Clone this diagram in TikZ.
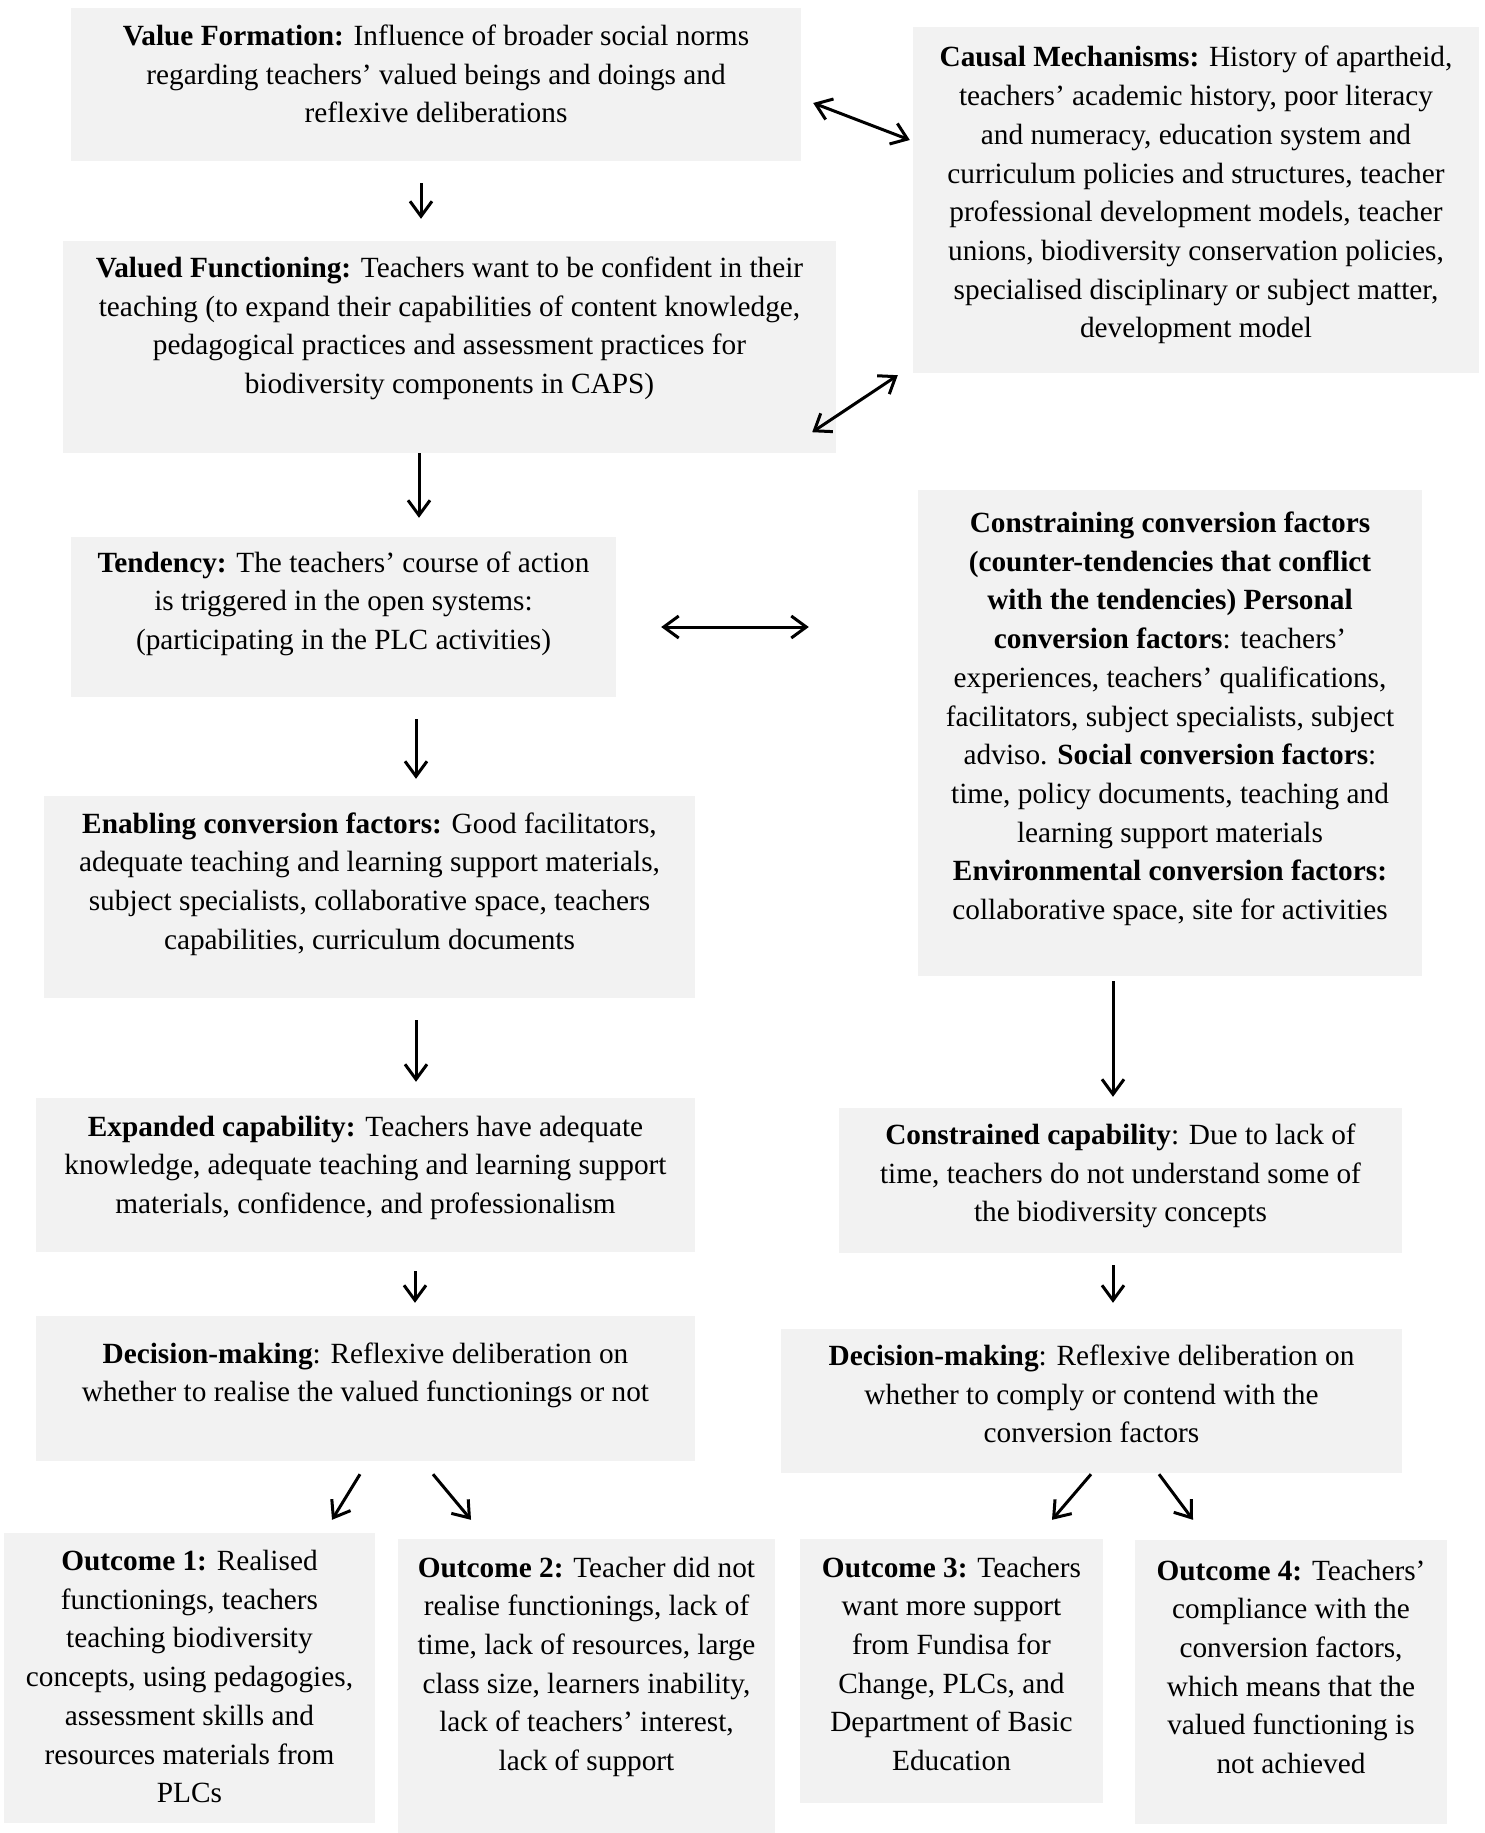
\documentclass[tikz,border=0pt]{standalone}
\usepackage{fontspec}
\setmainfont{Liberation Serif}
\usetikzlibrary{arrows.meta,fit}
\definecolor{boxgray}{HTML}{F2F2F2}
\tikzset{
  box/.style={fill=boxgray, inner sep=0pt, draw=none},
  txt/.style={font=\fontsize{29.3}{38.7}\selectfont, align=center, inner sep=0pt, anchor=center},
  arr/.style={line width=3pt, -{Straight Barb[length=15pt,width=22pt]}},
  darr/.style={line width=3pt, {Straight Barb[length=15pt,width=22pt]}-{Straight Barb[length=15pt,width=22pt]}},
}
\begin{document}
\begin{tikzpicture}[x=1pt,y=-1pt]
\useasboundingbox[fill=white] (0,0) rectangle (1484,1833);
% boxes
\node[box, fit={(71,8)(801,161)}] (b1) {};
\node[box, fit={(913,27)(1479,373)}] (b2) {};
\node[box, fit={(63,241)(836,453)}] (b3) {};
\node[box, fit={(71,537)(616,697)}] (b4) {};
\node[box, fit={(918,490)(1422,976)}] (b5) {};
\node[box, fit={(44,796)(695,998)}] (b6) {};
\node[box, fit={(36,1098)(695,1252)}] (b7) {};
\node[box, fit={(839,1108)(1402,1253)}] (b8) {};
\node[box, fit={(36,1316)(695,1461)}] (b9) {};
\node[box, fit={(781,1329)(1402,1473)}] (b10) {};
\node[box, fit={(4,1533)(375,1823)}] (b11) {};
\node[box, fit={(398,1539)(775,1833)}] (b12) {};
\node[box, fit={(800,1539)(1103,1803)}] (b13) {};
\node[box, fit={(1135,1540)(1447,1824)}] (b14) {};
% texts
\node[txt] (t1) at (436,76.5) {\strut\textbf{Value Formation:} Influence of broader social norms\\
regarding teachers’ valued beings and doings and\\
reflexive deliberations\strut};
\node[txt] (t2) at (1196,194.7) {\strut\textbf{Causal Mechanisms:} History of apartheid,\\
teachers’ academic history, poor literacy\\
and numeracy, education system and\\
curriculum policies and structures, teacher\\
professional development models, teacher\\
unions, biodiversity conservation policies,\\
specialised disciplinary or subject matter,\\
development model\strut};
\node[txt] (t3) at (449.5,327.8) {\strut\textbf{Valued Functioning:} Teachers want to be confident in their\\
teaching (to expand their capabilities of content knowledge,\\
pedagogical practices and assessment practices for\\
biodiversity components in CAPS)\strut};
\node[txt] (t4) at (343.5,603) {\strut\textbf{Tendency:} The teachers’ course of action\\
is triggered in the open systems:\\
(participating in the PLC activities)\strut};
\node[txt] (t5) at (1170,718.3) {\strut\textbf{Constraining conversion factors}\\
\textbf{(counter-tendencies that conflict}\\
\textbf{with the tendencies) Personal}\\
\textbf{conversion factors}: teachers’\\
experiences, teachers’ qualifications,\\
facilitators, subject specialists, subject\\
adviso. \textbf{Social conversion factors}:\\
time, policy documents, teaching and\\
learning support materials\\
\textbf{Environmental conversion factors:}\\
collaborative space, site for activities\strut};
\node[txt] (t6) at (369.5,883.3) {\strut\textbf{Enabling conversion factors:} Good facilitators,\\
adequate teaching and learning support materials,\\
subject specialists, collaborative space, teachers\\
capabilities, curriculum documents\strut};
\node[txt] (t7) at (365.5,1167) {\strut\textbf{Expanded capability:} Teachers have adequate\\
knowledge, adequate teaching and learning support\\
materials, confidence, and professionalism\strut};
\node[txt] (t8) at (1120.5,1175.5) {\strut\textbf{Constrained capability}: Due to lack of\\
time, teachers do not understand some of\\
the biodiversity concepts\strut};
\node[txt] (t9) at (365.5,1374.6) {\strut\textbf{Decision-making}: Reflexive deliberation on\\
whether to realise the valued functionings or not\strut};
\node[txt] (t10) at (1091.5,1396.5) {\strut\textbf{Decision-making}: Reflexive deliberation on\\
whether to comply or contend with the\\
conversion factors\strut};
\node[txt] (t11) at (189.5,1678.9) {\strut\textbf{Outcome 1:} Realised\\
functionings, teachers\\
teaching biodiversity\\
concepts, using pedagogies,\\
assessment skills and\\
resources materials from\\
PLCs\strut};
\node[txt] (t12) at (586.5,1666) {\strut\textbf{Outcome 2:} Teacher did not\\
realise functionings, lack of\\
time, lack of resources, large\\
class size, learners inability,\\
lack of teachers’ interest,\\
lack of support\strut};
\node[txt] (t13) at (951.5,1666) {\strut\textbf{Outcome 3:} Teachers\\
want more support\\
from Fundisa for\\
Change, PLCs, and\\
Department of Basic\\
Education\strut};
\node[txt] (t14) at (1291,1669) {\strut\textbf{Outcome 4:} Teachers’\\
compliance with the\\
conversion factors,\\
which means that the\\
valued functioning is\\
not achieved\strut};
% connectors
\draw[arr] ([shift={(-15,22)}]b1.south) -- ([shift={(-28.5,-22)}]b3.north);
\draw[darr] ([shift={(12,18.5)}]b1.east) -- ([shift={(-3,-60)}]b2.west);
\draw[darr] ([shift={(-24,-21)}]b3.south east) -- ([shift={(-15,2)}]b2.south west);
\draw[arr] ([shift={(-30.5,0)}]b3.south) -- ([shift={(75.5,-19)}]b4.north);
\draw[darr] ([shift={(45,10)}]b4.east) -- ([shift={(-109,-106)}]b5.west);
\draw[arr] ([shift={(72.5,22)}]b4.south) -- ([shift={(46.5,-17)}]b6.north);
\draw[arr] ([shift={(46.5,22)}]b6.south) -- ([shift={(50.5,-16)}]b7.north);
\draw[arr] ([shift={(49.5,19)}]b7.south) -- ([shift={(49.5,-13)}]b9.north);
\draw[arr] ([shift={(-57,5)}]b5.south) -- ([shift={(-7.5,-11)}]b8.north);
\draw[arr] ([shift={(-7.5,12)}]b8.south) -- ([shift={(21.5,-26)}]b10.north);
\draw[arr] ([shift={(-5.5,13)}]b9.south) -- ([shift={(142.5,-13)}]b11.north);
\draw[arr] ([shift={(67.5,13)}]b9.south) -- ([shift={(-115.5,-19)}]b12.north);
\draw[arr] ([shift={(-0.5,1)}]b10.south) -- ([shift={(100.5,-19)}]b13.north);
\draw[arr] ([shift={(67.5,1)}]b10.south) -- ([shift={(-98,-20)}]b14.north);
\end{tikzpicture}
\end{document}
